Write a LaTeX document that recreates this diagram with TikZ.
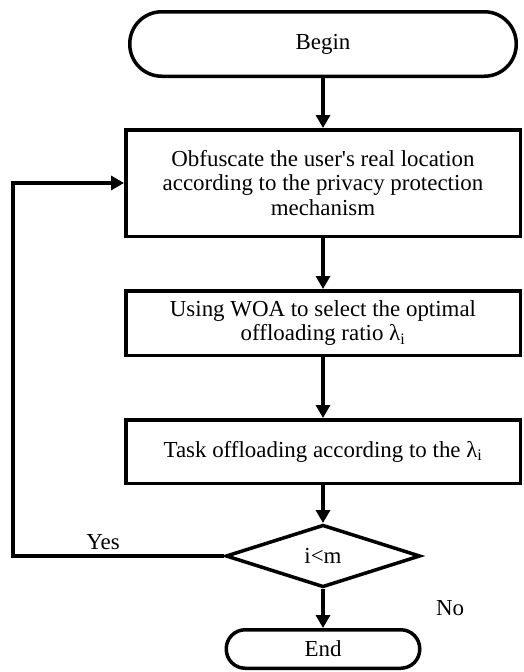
\documentclass[tikz,border=0pt]{standalone}
\usepackage{fontspec}
\setmainfont{Liberation Serif}
\usetikzlibrary{arrows.meta,positioning,shapes.geometric}

\begin{document}
\begin{tikzpicture}[-{Triangle[length=13bp,width=14bp]}, line width=3.5bp, node distance=50bp,
    font=\fontsize{23}{25}\selectfont]
    \tikzstyle{terminal}=[draw, align=center, inner sep=0pt]
    \tikzstyle{process}=[draw, align=center, minimum width=394.5bp, inner sep=0pt]
    \tikzstyle{decision}=[draw, diamond, aspect=3, minimum width=194.5bp, minimum height=62.5bp, inner sep=0pt]
    \useasboundingbox (0,0) rectangle (524bp,-672bp);
    \node[terminal, minimum width=386.5bp, minimum height=64.5bp, rounded corners=32bp] (begin) at (323bp,-44bp) {Begin};
    \node[process, minimum height=106.5bp] (obf)[below=50bp of begin] {Obfuscate the user\textquotesingle s real location\\according to the privacy protection\\mechanism};
    \node[process, minimum height=64.5bp] (woa)[below=51bp of obf] {Using WOA to select the optimal\\offloading ratio λ\textsubscript{i}};
    \node[process, minimum height=63.5bp] (task)[below=61bp of woa] {Task offloading according to the λ\textsubscript{i}};
    \node[decision] (cond)[below=38bp of task] {i\textless m};
    \node[terminal, minimum width=193.5bp, minimum height=38.5bp, rounded corners=19bp] (end)[below=39bp of cond] {End};
    \coordinate (loop) at (13bp,-556bp);
    \node (yes) at (103bp,-542bp) {Yes};
    \node (no) at (450bp,-608bp) {No};
    \draw (begin) -- (obf);
    \draw (obf) -- (woa);
    \draw (woa) -- (task);
    \draw (task) -- (cond);
    \draw (cond) -- (end);
    \draw (cond.west) -- (cond.west -| loop) |- (obf.west);
\end{tikzpicture}
\end{document}
